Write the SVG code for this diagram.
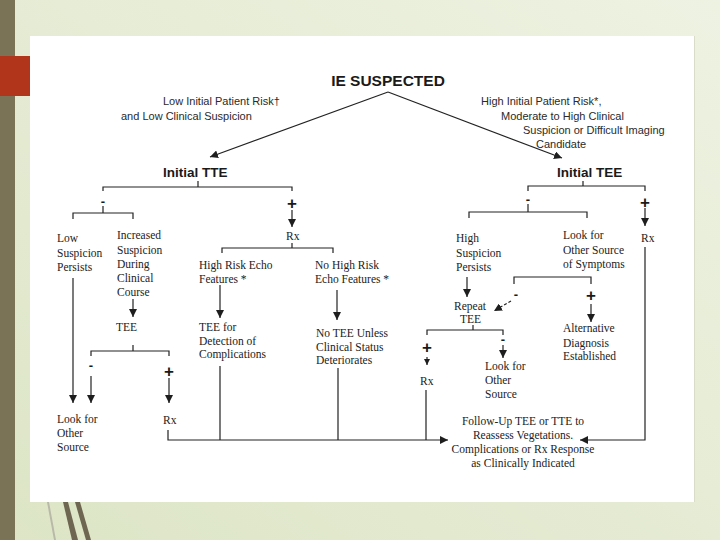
<svg xmlns="http://www.w3.org/2000/svg" width="720" height="540" viewBox="0 0 720 540">
<defs>
<linearGradient id="bg" x1="0" y1="1" x2="1" y2="0">
<stop offset="0" stop-color="#dde5c6"/>
<stop offset="1" stop-color="#eef2e2"/>
</linearGradient>
<marker id="arr" viewBox="0 0 10 10" refX="10" refY="5" markerWidth="8" markerHeight="8" markerUnits="userSpaceOnUse" orient="auto">
<path d="M0,0 L10,5 L0,10 z" fill="#1e1e1e"/>
</marker>
<marker id="arrs" viewBox="0 0 10 10" refX="10" refY="5" markerWidth="6" markerHeight="6" markerUnits="userSpaceOnUse" orient="auto">
<path d="M0,0 L10,5 L0,10 z" fill="#1e1e1e"/>
</marker>
<style>
.sans{font-family:"Liberation Sans",Arial,sans-serif;fill:#2a2a2a;font-size:11px}
.head{font-family:"Liberation Sans",Arial,sans-serif;fill:#1a1a1a;font-weight:bold}
.ser{font-family:"Liberation Serif","Times New Roman",serif;fill:#222;font-size:11.5px}
.sign{font-family:"Liberation Sans",Arial,sans-serif;fill:#1a1a1a;font-weight:bold;text-anchor:middle}
.ln{fill:none;stroke:#222;stroke-width:1.2}
.ar{fill:none;stroke:#222;stroke-width:1.2;marker-end:url(#arr)}
.as{fill:none;stroke:#222;stroke-width:1.2;marker-end:url(#arrs)}
</style>
</defs>
<rect x="0" y="0" width="720" height="540" fill="url(#bg)"/>
<rect x="0" y="0" width="15" height="540" fill="#7a7356"/>
<rect x="0" y="56" width="30" height="40" fill="#b0351b"/>
<polygon points="47,502 49,502 56,540 54,540" fill="#b9b9a8"/>
<polygon points="63,502 68,502 78,540 72,540" fill="#6e6650"/>
<polygon points="75,502 80,502 91,540 86,540" fill="#6e6650"/>
<rect x="30" y="36" width="664" height="466" fill="#ffffff"/>
<line x1="694.5" y1="36" x2="694.5" y2="502" stroke="#d9ddc8" stroke-width="1"/>

<g id="connectors">
<path class="ar" d="M388,92 L210,157"/>
<path class="ar" d="M388,92 L562,158"/>
<path class="ln" d="M103,191 V187 H292 V191 M198,181 V187"/>
<path class="ln" d="M528,191 V186 H645 V191 M583,181 V186"/>
<path class="ln" d="M103,206 V213 M73,219 V213 H133 V219"/>
<path class="ar" d="M73,278 V403"/>
<path class="ar" d="M133,299 V317"/>
<path class="ln" d="M133,345 V351 M91,356 V351 H169 V356"/>
<path class="ar" d="M91,376 V403"/>
<path class="ar" d="M169,378 V403"/>
<path class="ar" d="M168,430 V440 H448"/>
<path class="ln" d="M220,366 V440 M338,368 V440 M426,390 V440"/>
<path class="ar" d="M292,210 V227"/>
<path class="ln" d="M222,253 V248 H333 V253 M292,243 V248"/>
<path class="ar" d="M220,285 V318"/>
<path class="ar" d="M337,290 V320"/>
<path class="ln" d="M528,204 V212 M469,218 V212 H587 V218"/>
<path class="ar" d="M645,208 V226"/>
<path class="ar" d="M645,247 V440 H580"/>
<path class="ar" d="M467,277 V297"/>
<path class="ln" d="M514,284 V277 H591 V284"/>
<path class="ar" d="M511,301 L494,311" stroke-dasharray="3,2"/>
<path class="ar" d="M591,304 V322"/>
<path class="ln" d="M473,325 V330 M427,335 V330 H503 V335"/>
<path class="as" d="M427,357 V365"/>
<path class="ar" d="M503,345 V358"/>
</g>

<g id="n-ie"><text class="head" x="388" y="86" font-size="15.5" text-anchor="middle">IE SUSPECTED</text></g>
<g id="n-lowrisk" class="sans">
<text x="163" y="105">Low Initial Patient Risk†</text>
<text x="121" y="120">and Low Clinical Suspicion</text>
</g>
<g id="n-highrisk" class="sans">
<text x="481" y="105">High Initial Patient Risk*,</text>
<text x="501" y="120">Moderate to High Clinical</text>
<text x="523" y="134">Suspicion or Difficult Imaging</text>
<text x="536" y="148">Candidate</text>
</g>
<g id="n-tte"><text class="head" x="163" y="177" font-size="13.5">Initial TTE</text></g>
<g id="n-tee"><text class="head" x="557" y="177" font-size="13.5">Initial TEE</text></g>

<g id="signs">
<text class="sign" x="103" y="206" font-size="13">-</text>
<text class="sign" x="292" y="209" font-size="17">+</text>
<text class="sign" x="528" y="204" font-size="13">-</text>
<text class="sign" x="645" y="208" font-size="17">+</text>
<text class="sign" x="91" y="370" font-size="13">-</text>
<text class="sign" x="169" y="377" font-size="17">+</text>
<text class="sign" x="516" y="299" font-size="13">-</text>
<text class="sign" x="591" y="301" font-size="17">+</text>
<text class="sign" x="427" y="353" font-size="17">+</text>
<text class="sign" x="503" y="344" font-size="13">-</text>
</g>

<g id="n-lowsusp" class="ser">
<text x="57" y="242">Low</text><text x="57" y="257">Suspicion</text><text x="57" y="271">Persists</text>
</g>
<g id="n-incsusp" class="ser">
<text x="117" y="239">Increased</text><text x="117" y="254">Suspicion</text><text x="117" y="268">During</text><text x="117" y="282">Clinical</text><text x="117" y="296">Course</text>
</g>
<g id="n-tee2" class="ser"><text x="116" y="331">TEE</text></g>
<g id="n-look1" class="ser">
<text x="57" y="423">Look for</text><text x="57" y="437">Other</text><text x="57" y="451">Source</text>
</g>
<g id="n-rx1" class="ser"><text x="163" y="424">Rx</text></g>
<g id="n-rx2" class="ser"><text x="286" y="240">Rx</text></g>
<g id="n-highecho" class="ser">
<text x="199" y="269">High Risk Echo</text><text x="199" y="283">Features *</text>
</g>
<g id="n-nohighecho" class="ser">
<text x="315" y="269">No High Risk</text><text x="315" y="283">Echo Features *</text>
</g>
<g id="n-teedetect" class="ser">
<text x="199" y="331">TEE for</text><text x="199" y="345">Detection of</text><text x="199" y="358">Complications</text>
</g>
<g id="n-notee" class="ser">
<text x="316" y="337">No TEE Unless</text><text x="316" y="351">Clinical Status</text><text x="316" y="364">Deteriorates</text>
</g>
<g id="n-highsusp" class="ser">
<text x="456" y="242">High</text><text x="456" y="257">Suspicion</text><text x="456" y="271">Persists</text>
</g>
<g id="n-lookother" class="ser">
<text x="563" y="239">Look for</text><text x="563" y="254">Other Source</text><text x="563" y="268">of Symptoms</text>
</g>
<g id="n-rx3" class="ser"><text x="641" y="242">Rx</text></g>
<g id="n-repeat" class="ser">
<text x="454" y="310">Repeat</text><text x="460" y="323">TEE</text>
</g>
<g id="n-alt" class="ser">
<text x="563" y="332">Alternative</text><text x="563" y="347">Diagnosis</text><text x="563" y="360">Established</text>
</g>
<g id="n-rx4" class="ser"><text x="420" y="385">Rx</text></g>
<g id="n-look2" class="ser">
<text x="485" y="370">Look for</text><text x="485" y="384">Other</text><text x="485" y="398">Source</text>
</g>
<g id="n-followup" class="ser" text-anchor="middle">
<text x="523" y="425">Follow-Up TEE or TTE to</text>
<text x="523" y="439">Reassess Vegetations.</text>
<text x="523" y="453">Complications or Rx Response</text>
<text x="523" y="467">as Clinically Indicated</text>
</g>
</svg>
